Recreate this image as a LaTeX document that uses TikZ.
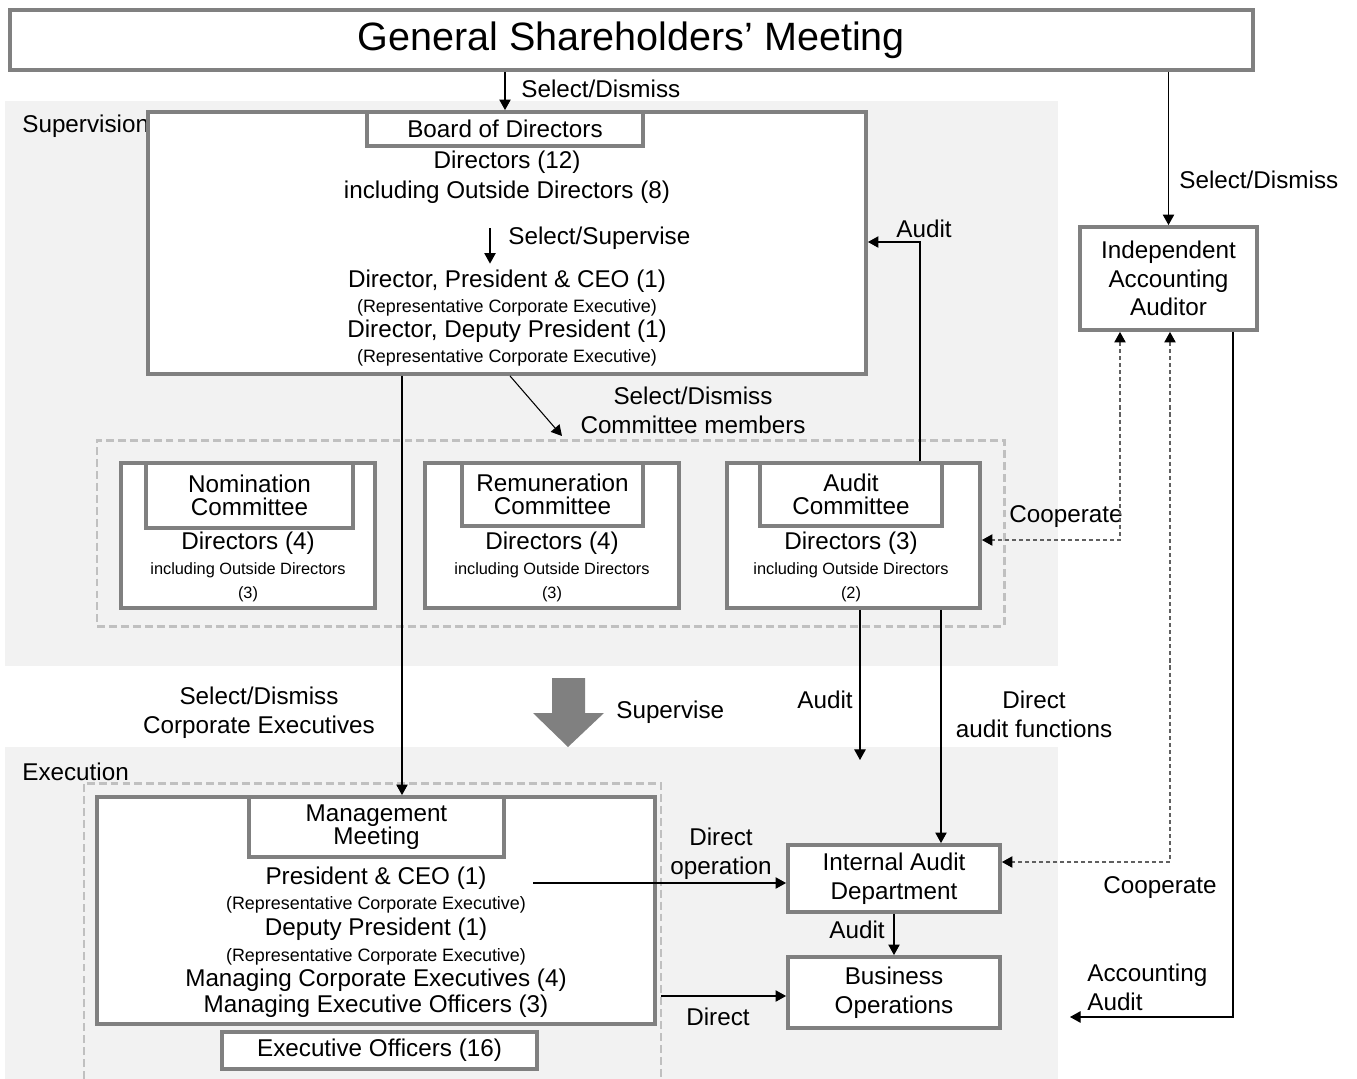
\documentclass[tikz,border=0pt]{standalone}
\usepackage{fontspec}
\setmainfont{Liberation Sans}
\usetikzlibrary{fit,arrows.meta}
\definecolor{panelgray}{HTML}{F2F2F2}
\definecolor{boxgray}{HTML}{808080}
\definecolor{dashgray}{HTML}{C0C0C0}
\definecolor{coopgray}{HTML}{606060}
\newcommand{\notefont}{\fontsize{10.2}{12}\selectfont}
\newcommand{\cmtfont}{\fontsize{9.3}{11}\selectfont}

\begin{document}
\begin{tikzpicture}[x=0.02cm, y=-0.02cm,
      every node/.style = {align=center, inner sep=0pt,
        font=\fontsize{13.8}{16.4}\selectfont},
      box/.style = {draw=boxgray, line width=2.2pt, fill=white},
      wh/.style 2 args = {minimum width=#1*0.02cm, minimum height=#2*0.02cm},
      group/.style = {draw=dashgray, line width=1.7pt, dash pattern=on 4.5pt off 2.3pt},
      arr/.style = {-{Triangle[length=6pt, width=6.5pt]}, line width=0.6pt},
      coop/.style = {{Triangle[length=6pt, width=6.5pt, color=black]}-{Triangle[length=6pt, width=6.5pt, color=black]},
        draw=coopgray, line width=0.6pt, dash pattern=on 2.3pt off 1.7pt}]
    \useasboundingbox (0,0) rectangle (1357,1079);
    \fill[panelgray] (5,101) rectangle (1058,666);
    \fill[panelgray] (5,747) rectangle (1058,1079);
    \node[anchor=west] (suplabel) at (22,126) {Supervision};
    \node[anchor=west] (exelabel) at (22,772) {Execution};

    \node[box, wh={1243}{60}, font=\fontsize{22.5}{27}\selectfont] (gsm) at (631.5,40) {General Shareholders’ Meeting};

    \node[box, fit={(148,112) (866,374)}] (brd) {};
    \node[box, wh={276}{34}] (brdtitle) at (505,129) {Board of Directors};
    \node[font=\fontsize{13.8}{17}\selectfont] (brdnum) at (507,177)
      {Directors (12)\\including Outside Directors (8)};
    \node[font=\fontsize{13.8}{14.2}\selectfont] (brdexec) at (507,318)
      {Director, President \& CEO (1)\\{\notefont (Representative Corporate Executive)}\\
       Director, Deputy President (1)\\{\notefont (Representative Corporate Executive)}};

    \node[group, fit={(97,440) (1004,626)}] (cgroup) {};
    \node[box, fit={(121,463) (375,608)}] (nom) {};
    \node[box, wh={207}{65}, font=\fontsize{13.8}{13}\selectfont] (nomtitle) at (249.5,495.5) {Nomination\\Committee};
    \node[font=\fontsize{13.8}{14}\selectfont] (nomnum) at (248,567)
      {Directors (4)\\{\cmtfont including Outside Directors}\\{\cmtfont (3)}};
    \node[box, fit={(425,463) (679,608)}] (rem) {};
    \node[box, wh={181}{63}, font=\fontsize{13.8}{13}\selectfont] (remtitle) at (552.5,494.5) {Remuneration\\Committee};
    \node[font=\fontsize{13.8}{14}\selectfont] (remnum) at (552,567)
      {Directors (4)\\{\cmtfont including Outside Directors}\\{\cmtfont (3)}};
    \node[box, fit={(727,463) (980,608)}] (aud) {};
    \node[box, wh={182}{63}, font=\fontsize{13.8}{13}\selectfont] (audtitle) at (851,494.5) {Audit\\Committee};
    \node[font=\fontsize{13.8}{14}\selectfont] (audnum) at (851,567)
      {Directors (3)\\{\cmtfont including Outside Directors}\\{\cmtfont (2)}};

    \node[box, wh={177}{103}] (iaa) at (1168.5,278.5) {Independent\\Accounting\\Auditor};

    \draw[group] (84,1079) |- (661,783) -- (661,1079);
    \node[box, fit={(97,797) (655,1024)}] (mgmt) {};
    \node[box, wh={255}{60}, font=\fontsize{13.8}{13}\selectfont] (mgmttitle) at (376.5,827) {Management\\Meeting};
    \node[font=\fontsize{13.8}{14.6}\selectfont] (mgmtlist) at (376,942)
      {President \& CEO (1)\\{\notefont (Representative Corporate Executive)}\\
       Deputy President (1)\\{\notefont (Representative Corporate Executive)}\\
       Managing Corporate Executives (4)\\Managing Executive Officers (3)};
    \node[box, wh={315}{37}] (execoff) at (379.5,1050.5) {Executive Officers (16)};
    \node[box, wh={212}{67}] (iad) at (894,878.5) {Internal Audit\\Department};
    \node[box, wh={212}{71}] (bizops) at (894,992.5) {Business\\Operations};

    \fill[boxgray] (552,678) -- (585,678) -- (585,713) -- (604,713) -- (568,747)
      -- (533,713) -- (552,713) -- cycle;

    \node[anchor=west] (sdgsm) at (521,89) {Select/Dismiss};
    \node[anchor=west] (ssup) at (508,238) {Select/Supervise};
    \node (sdcm) at (693,410) {Select/Dismiss\\Committee members};
    \node (audlbl) at (924,229) {Audit};
    \node[anchor=west] (sdiaa) at (1179,180) {Select/Dismiss};
    \node[anchor=west] (coopalbl) at (1009,517) {Cooperate};
    \node (coopblbl) at (1160,888) {Cooperate};
    \node[anchor=west, align=left] (acclbl) at (1087,987) {Accounting\\Audit};
    \node (audlbl2) at (825,700) {Audit};
    \node (daflbl) at (1034,714) {Direct\\audit functions};
    \node[anchor=west] (suplbl) at (616,712) {Supervise};
    \node (sdce) at (259,713) {Select/Dismiss\\Corporate Executives};
    \node (doplbl) at (721,854) {Direct\\operation};
    \node (dirlbl) at (718,1017) {Direct};
    \node (audlbl3) at (857,930) {Audit};

    \draw[arr] (gsm.south -| brdtitle.north) -- (brdtitle.north);
    \draw[arr] (gsm.south -| iaa.north) -- (iaa.north);
    \draw[arr, shorten <=14pt, shorten >=3.4pt] (brdnum.south -| 490,0) -- (brdexec.north -| 490,0);
    \coordinate (cmtip) at (562,436);
    \draw[arr] (brd.south -| 510,0) -- (cmtip);
    \coordinate (audbend) at (920,242);
    \draw[arr] (aud.north -| audbend) -- (audbend) -- (brd.east |- audbend);
    \draw[arr] (brd.south -| 402,0) -- (mgmt.north -| 402,0);
    \coordinate (coopa) at (1120,540);
    \draw[coop] (iaa.south -| coopa) -- (coopa) -- (aud.east |- coopa);
    \coordinate (coopb) at (1170,862);
    \draw[coop] (iaa.south -| coopb) -- (coopb) -- (iad.east |- coopb);
    \coordinate (accbend) at (1233,1017);
    \coordinate (acctip) at (1070,1017);
    \draw[arr] (iaa.south -| accbend) -- (accbend) -- (acctip);
    \coordinate (audtip) at (860,760);
    \draw[arr] (aud.south -| audtip) -- (audtip);
    \draw[arr] (aud.south -| 941,0) -- (iad.north -| 941,0);
    \coordinate (dopstart) at (533,883);
    \draw[arr] (dopstart) -- (iad.west |- dopstart);
    \coordinate (dirstart) at (661,996);
    \draw[arr] (dirstart) -- (bizops.west |- dirstart);
    \draw[arr] (iad) -- (bizops);
  \end{tikzpicture}
\end{document}
